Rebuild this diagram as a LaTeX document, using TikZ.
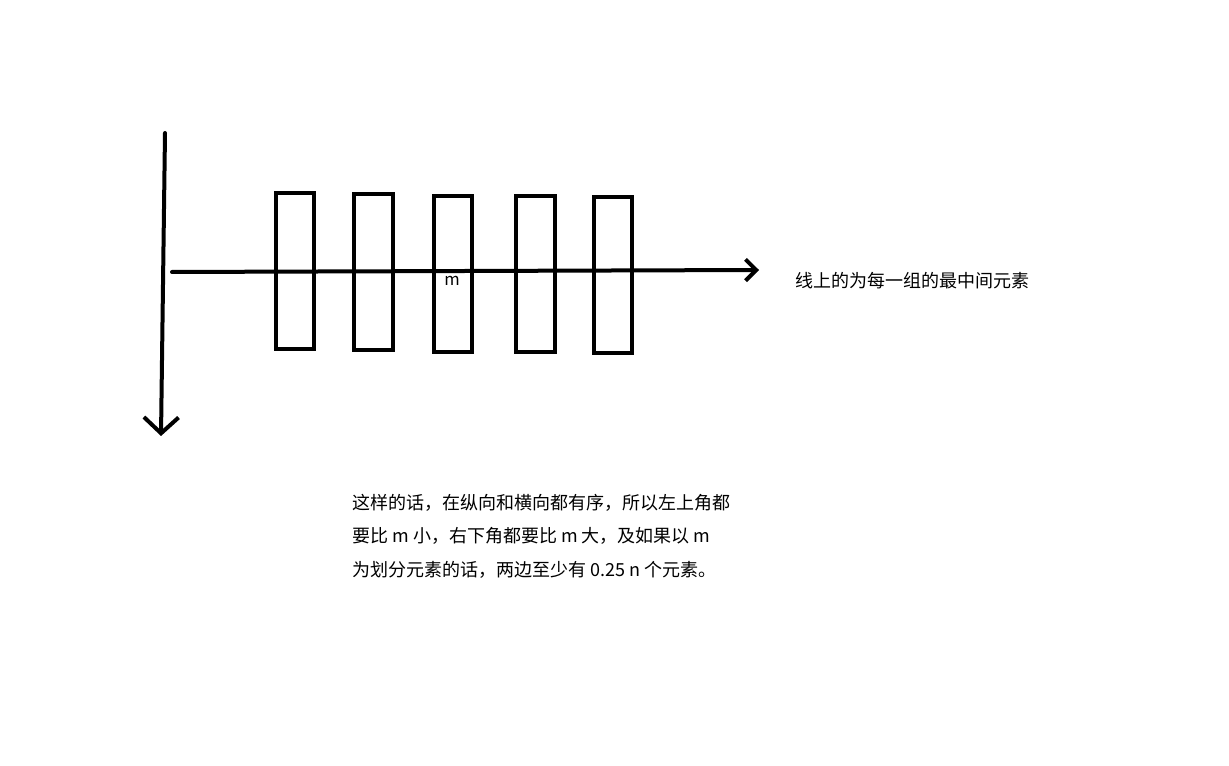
\documentclass[tikz,border=0pt]{standalone}
\usepackage{fontspec}
\setmainfont{Noto Sans CJK SC}
\usetikzlibrary{arrows.meta, positioning}
\tikzset{
  group/.style={
    rectangle, draw=black, line width=3pt, minimum width=29pt, minimum height=117pt,
    inner sep=0pt
  },
  axis/.style={line width=3pt, line cap=round},
  note/.style={inner sep=0pt, font=\fontsize{13.5}{25}\selectfont, align=left}
}

\begin{document}
\begin{tikzpicture}[x=0.75pt, y=-0.75pt]
    \useasboundingbox (0,0) rectangle (1229,766);
    \coordinate (vtop) at (165,133);
    \coordinate (vbot) at (161,436);
    \coordinate (hl) at (172,272);
    \coordinate (hr) at (759,270);
    \node[group] (g1) at (295,271) {};
    \node[group, right=27pt of g1, yshift=-1pt] (g2) {};
    \node[group, right=27.5pt of g2, yshift=-1pt] (g3) {};
    \node[group, right=30pt of g3] (g4) {};
    \node[group, right=26pt of g4, yshift=-1pt] (g5) {};
    \draw[axis, -{Straight Barb[length=12pt, width=26pt, line width=3pt]}] (vtop) -- (vbot);
    \draw[axis, -{Straight Barb[length=8pt, width=16pt, line width=3pt]}] (hl) -- (hr);
    \node[font=\fontsize{12.5}{14}\selectfont, inner sep=0pt] (m) at (452,281) {m};
    \node[note, anchor=west] (lbl) at (795,281) {线上的为每一组的最中间元素};
    \node[note, anchor=north west] (txt) at (352,494) {这样的话，在纵向和横向都有序，所以左上角都\\要比 m 小，右下角都要比 m 大，及如果以 m\\为划分元素的话，两边至少有 0.25 n 个元素。};
\end{tikzpicture}
\end{document}
